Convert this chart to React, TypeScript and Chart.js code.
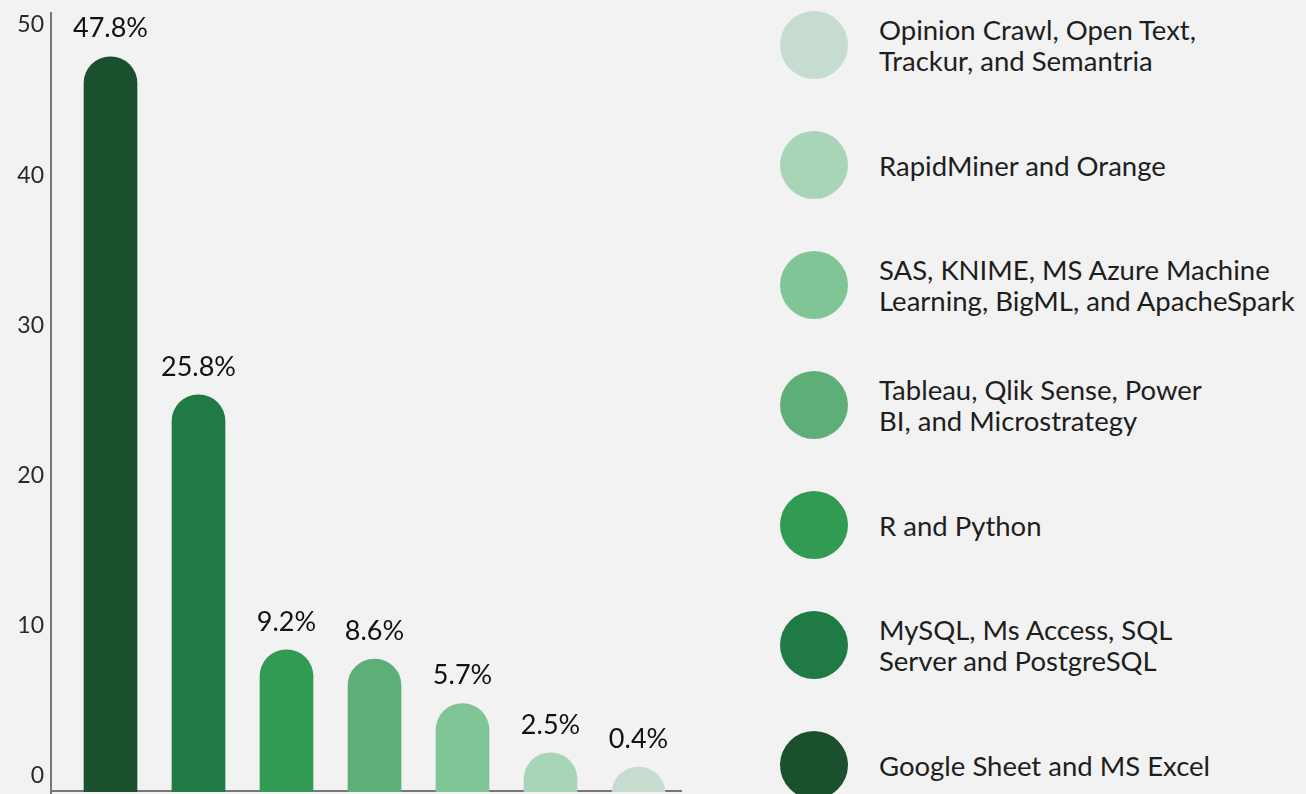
import React, { useEffect, useRef } from "react";
import { Chart, registerables } from "chart.js";

Chart.register(...registerables);

// Bars in chart order (left to right)
const categories = [
  "Google Sheet and MS Excel",
  "MySQL, Ms Access, SQL\nServer and PostgreSQL",
  "R and Python",
  "Tableau, Qlik Sense, Power\nBI, and Microstrategy",
  "SAS, KNIME, MS Azure Machine\nLearning, BigML, and ApacheSpark",
  "RapidMiner and Orange",
  "Opinion Crawl, Open Text,\nTrackur, and Semantria",
];
const values = [47.8, 25.8, 9.2, 8.6, 5.7, 2.5, 0.4];
const valueLabels = ["47.8%", "25.8%", "9.2%", "8.6%", "5.7%", "2.5%", "0.4%"];
const colors = ["#1a502e", "#1f7a43", "#319a53", "#5daf77", "#80c596", "#a8d5b8", "#c5dccf"];
const yTicks = [0, 10, 20, 30, 40, 50];

const FONT = "Lato, 'Open Sans', sans-serif";

const valueLabelPlugin = {
  id: "valueLabels",
  afterDatasetsDraw(chart: any) {
    const meta = chart.getDatasetMeta(0);
    const ctx = chart.ctx;
    ctx.save();
    ctx.font = `27px ${FONT}`;
    ctx.fillStyle = "#111111";
    ctx.textAlign = "center";
    ctx.textBaseline = "middle";
    meta.data.forEach((el: any, i: number) => {
      ctx.fillText(valueLabels[i], el.x, el.y - 28);
    });
    ctx.restore();
  },
};

export default function App() {
  const ref = useRef<HTMLCanvasElement>(null);

  useEffect(() => {
    document.body.style.margin = "0";
    document.body.style.background = "#f1f2f1";
    const chart = new Chart(ref.current!, {
      type: "bar",
      data: {
        datasets: [
          {
            data: values.map((v, i) => ({ x: i, y: v })),
            backgroundColor: colors,
            borderWidth: 0,
            borderSkipped: "bottom",
            borderRadius: { topLeft: 27, topRight: 27, bottomLeft: 0, bottomRight: 0 },
            barThickness: 53,
            base: -3.5,
            minBarLength: 78,
            clip: { left: 0, right: 0, top: 0, bottom: -53 },
            yAxisID: "y",
            xAxisID: "x",
          } as any,
        ],
      },
      options: {
        animation: false,
        responsive: false,
        maintainAspectRatio: false,
        layout: { padding: { top: 13, right: 18, left: 0, bottom: 5 } },
        plugins: { legend: { display: false }, tooltip: { enabled: false } },
        scales: {
          x: {
            type: "linear",
            display: false,
            offset: false,
            min: -0.676,
            max: 6.494,
          },
          y: {
            type: "linear",
            position: "left",
            min: -3.5,
            max: 50.65,
            z: 1,
            ticks: { display: false },
            border: { display: false },
            grid: {
              display: true,
              drawTicks: false,
              lineWidth: 2,
              color: (c: any) => (c.tick && c.tick.value === 0 ? "#777777" : "rgba(0,0,0,0)"),
            },
            afterBuildTicks: (s: any) => {
              s.ticks = [{ value: 0 }];
            },
            afterFit: (s: any) => {
              s.width = 0;
              s.paddingTop = 0;
              s.paddingBottom = 0;
            },
          },
          yl: {
            type: "linear",
            position: "left",
            min: -4.59,
            max: 50.8,
            grid: { display: false, drawTicks: false },
            border: { display: true, color: "#777777", width: 2 },
            ticks: {
              stepSize: 10,
              includeBounds: false,
              padding: 7,
              color: "#2a2a2a",
              font: { family: FONT, size: 23 },
            },
            afterBuildTicks: (s: any) => {
              s.ticks = yTicks.map((v) => ({ value: v }));
            },
            afterFit: (s: any) => {
              s.width = 51;
              s.paddingTop = 0;
              s.paddingBottom = 0;
            },
          },
        },
      },
      plugins: [valueLabelPlugin],
    } as any);
    return () => chart.destroy();
  }, []);

  const legendOrder = categories.map((c, i) => i).reverse();

  return (
    <div
      style={{
        position: "absolute",
        left: 0,
        top: 0,
        width: 1306,
        height: 794,
        background: "#f1f2f1",
        overflow: "hidden",
        fontFamily: FONT,
      }}
    >
      <canvas ref={ref} width={700} height={850} style={{ position: "absolute", left: 0, top: 0 }} />
      {legendOrder.map((idx, k) => (
        <div
          key={idx}
          style={{
            position: "absolute",
            left: 780,
            top: 11 + 120 * k,
            height: 68,
            display: "flex",
            alignItems: "center",
          }}
        >
          <div
            style={{
              width: 68,
              height: 68,
              borderRadius: "50%",
              background: colors[idx],
              flex: "none",
            }}
          />
          <div
            style={{
              marginLeft: 31,
              fontSize: 27.5,
              lineHeight: "31px",
              color: "#1e1e1e",
              whiteSpace: "pre",
            }}
          >
            {categories[idx]}
          </div>
        </div>
      ))}
    </div>
  );
}
